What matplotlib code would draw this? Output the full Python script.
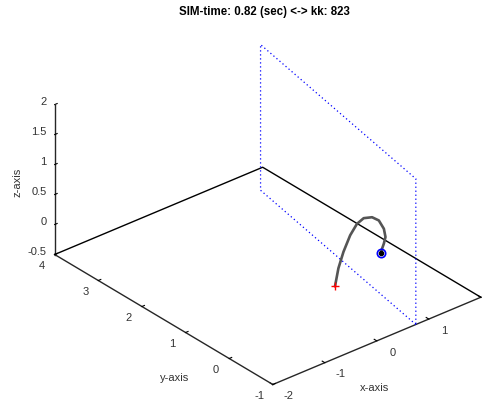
import matplotlib
matplotlib.use("Agg")
import matplotlib.pyplot as plt
import numpy as np
from mpl_toolkits.mplot3d import proj3d

plt.rcParams['font.family'] = ['Liberation Sans', 'DejaVu Sans']

# axis ranges and ticks
x_lim = (-2, 2)
y_lim = (-1, 4)
z_lim = (-0.5, 2)
x_ticks = [-2, -1, 0, 1, 2]
y_ticks = [-1, 0, 1, 2, 3, 4]
z_ticks = [-0.5, 0, 0.5, 1, 1.5, 2]
# the x = 2 label falls outside the figure, so only these are written
x_label_ticks = [-2, -1, 0, 1]
x_ticklabels = ['-2', '-1', '0', '1']
y_ticklabels = ['-1', '0', '1', '2', '3', '4']
z_ticklabels = ['-0.5', '0', '0.5', '1', '1.5', '2']

# ground outline (back edges of the floor)
floor_x = [-2, 2, 2]
floor_y = [4, 4, -1]
floor_z = [-0.5, -0.5, -0.5]

# tilted wall (corners of the dotted rectangle)
wall_x = [0.75, 1.54, 1.54, 0.75, 0.75]
wall_y = [-1.0, 3.5, 3.5, -1.0, -1.0]
wall_z = [-0.5, -0.5, 1.93, 1.93, -0.5]

# trajectory of the ball up to the current step
traj_x = [0.454, 0.520, 0.617, 0.746, 0.876, 1.006, 1.167, 1.297, 1.394,
          1.425, 1.394, 1.361, 1.336]
traj_y = [0.5] * len(traj_x)
traj_z = [-0.406, -0.128, 0.110, 0.339, 0.482, 0.530, 0.487, 0.386, 0.212,
          0.064, -0.035, -0.104, -0.166]

sim_time = 0.82
kk = 823

TXT = '#333333'
FS = 8

fig = plt.figure(figsize=(4.87, 4.03), dpi=100)
ax = fig.add_axes([0.0395, 0.029, 1.0, 0.92], projection='3d')
ax.set_proj_type('ortho')
ax.view_init(elev=30, azim=-130)
ax.set_box_aspect((4, 5, 2.55), zoom=1.225)

ax.plot(floor_x, floor_y, floor_z, color='black', lw=1.0, clip_on=False)
ax.plot(wall_x, wall_y, wall_z, color='blue', lw=0.9, ls=(0, (1, 2.2)), clip_on=False)
ax.plot(traj_x, traj_y, traj_z, color='#555555', lw=1.9,
        solid_capstyle='round', clip_on=False)
ax.plot([traj_x[0]], [traj_y[0]], [traj_z[0]], marker='+', color='red',
        ms=6, mew=1.0, clip_on=False)
ax.plot([traj_x[-1]], [traj_y[-1]], [traj_z[-1]], marker='o', mfc='none',
        mec='blue', ms=6, mew=1.2, clip_on=False)
ax.plot([traj_x[-1]], [traj_y[-1]], [traj_z[-1]], marker='o', color='black',
        ms=3, clip_on=False)

ax.set_xlim(*x_lim)
ax.set_ylim(*y_lim)
ax.set_zlim(*z_lim)
ax.set_xticks(x_ticks)
ax.set_yticks(y_ticks)
ax.set_zticks(z_ticks)

for axis in (ax.xaxis, ax.yaxis, ax.zaxis):
    axis.set_pane_color((1, 1, 1, 0))
    axis.pane.set_edgecolor('none')
    axis.line.set_color('#262626')
    axis.line.set_linewidth(1.0)
    axis._axinfo['tick']['inward_factor'] = 0.0
    axis._axinfo['tick']['outward_factor'] = 0.15
    axis.set_tick_params(labelbottom=False)
ax.grid(False)

# projection of the finished view, used to anchor flat labels at 3D points
M = ax.get_proj()


def label3d(x, y, z, s, **kw):
    px, py, _ = proj3d.proj_transform(x, y, z, M)
    return ax.text2D(px, py, s, transform=ax.transData, **kw)


# tick labels placed just outside the floor edges
x0, y0, z0 = x_lim[0], y_lim[0], z_lim[0]
for v, s in zip(x_label_ticks, x_ticklabels):
    label3d(v + 0.05, y0 - 0.30, z0 - 0.085, s, ha='center', va='center',
            fontsize=FS, color=TXT)
for v, s in zip(y_ticks, y_ticklabels):
    label3d(x0 - 0.252, v, z0 - 0.107, s, ha='center', va='center',
            fontsize=FS, color=TXT)
for v, s in zip(z_ticks, z_ticklabels):
    label3d(x0 - 0.034, y_lim[1] + 0.143, v, s, ha='right', va='center',
            fontsize=FS, color=TXT)

# axis titles
label3d(-0.04, y0, z0 - 0.77, 'x-axis', ha='center', va='center',
        fontsize=FS, color=TXT)
label3d(x0 + 0.215, 1.5, z0 - 1.054, 'y-axis', ha='center', va='center',
        fontsize=FS, color=TXT)
label3d(x0 - 0.40, y_lim[1] + 0.382, 0.68, 'z-axis', rotation=90,
        ha='center', va='center', fontsize=FS, color=TXT)

fig.text(0.543, 0.97, f'SIM-time: {sim_time:.2f} (sec) <-> kk: {kk}',
         ha='center', va='center', fontsize=8.3, fontweight='bold')

fig.savefig('out.png', dpi=100)
